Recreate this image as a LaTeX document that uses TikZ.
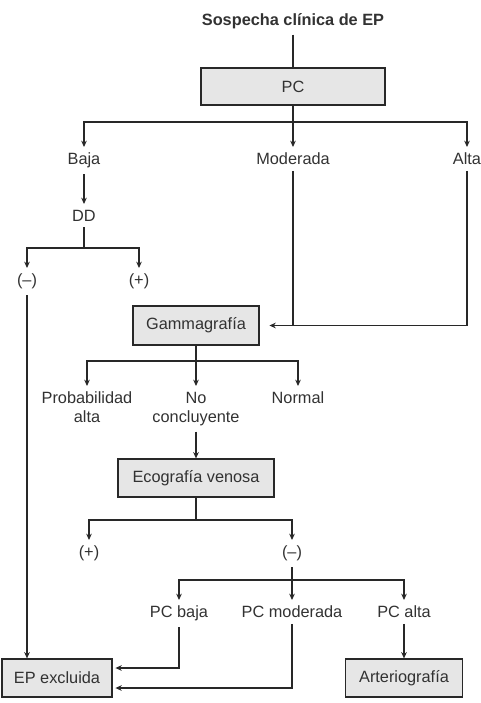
\documentclass[tikz,border=0pt]{standalone}
\usepackage{fontspec}
\setmainfont{Liberation Sans}
\usepackage{tikz}
\usetikzlibrary{arrows.meta, positioning, calc}
\definecolor{mydark}{RGB}{40,40,40}
\definecolor{mytext}{RGB}{50,50,50}
\definecolor{boxgray}{RGB}{230,230,230}
\tikzset{
  box/.style={rectangle, draw=mydark, fill=boxgray, text=mytext,
    align=center, inner sep=0pt, font=\fontsize{11.6}{13.6}\selectfont,
    line width=0.85pt},
  lbl/.style={text=mytext, align=center, inner xsep=1pt, inner ysep=4pt,
    font=\fontsize{11.6}{13.6}\selectfont},
  arrow/.style={-{Stealth[length=4.5pt,width=4pt]}, line width=0.85pt, color=mydark},
  line/.style={line width=0.85pt, color=mydark}
}
\begin{document}
\begin{tikzpicture}[x=0.025cm, y=-0.025cm]
  \useasboundingbox (0,0) rectangle (480,703);

  \node [lbl, font=\fontsize{11.6}{13.6}\selectfont\bfseries] (title) at (293,21) {Sospecha clínica de EP};
  \node [box, minimum width=4.6cm, minimum height=0.925cm] (pc) at (293,86.5) {PC};

  \coordinate (pcsplit) at (293,122);
  \node [lbl, anchor=north] (baja) at (84,147) {Baja};
  \node [lbl, anchor=north] (moderada) at (293,147) {Moderada};
  \node [lbl, anchor=north] (alta) at (467,147) {Alta};
  \node [lbl, anchor=north] (dd) at (84,204) {DD};

  \coordinate (ddsplit) at (84,248);
  \node [lbl, anchor=north] (ddneg) at (27,268) {(--)};
  \node [lbl, anchor=north] (ddpos) at (139,268) {(+)};

  \node [box, minimum width=3.15cm, minimum height=0.975cm] (gamma) at (196,325.5) {Gammagrafía};
  \coordinate (gamsplit) at (196,361);
  \node [lbl, anchor=north] (probalta) at (87,386) {Probabilidad\\alta};
  \node [lbl, anchor=north] (noconc) at (196,386) {No\\concluyente};
  \node [lbl, anchor=north] (normal) at (298,386) {Normal};

  \node [box, minimum width=3.9cm, minimum height=0.95cm] (eco) at (196,478) {Ecografía venosa};
  \coordinate (ecosplit) at (196,520);
  \node [lbl, anchor=north] (ecopos) at (89,540) {(+)};
  \node [lbl, anchor=north] (econeg) at (292,540) {(--)};

  \coordinate (negsplit) at (292,580);
  \node [lbl, anchor=north] (pcbaja) at (179,600) {PC baja};
  \node [lbl, anchor=north] (pcmod) at (292,600) {PC moderada};
  \node [lbl, anchor=north] (pcalta) at (404,600) {PC alta};

  \node [box, minimum width=2.75cm, minimum height=0.95cm] (epexcl) at (57,678) {EP excluida};
  \node [box, minimum width=2.925cm, minimum height=0.95cm] (arterio) at (404,678) {Arteriografía};

  \draw [line] (title.south) -- (title.south |- pc.north);
  \draw [line] (pc) -- (pcsplit);
  \draw [arrow] (pcsplit) -| (baja);
  \draw [arrow] (pcsplit) -- (moderada);
  \draw [arrow] (pcsplit) -| (alta);
  \draw [arrow] (baja) -- (dd);

  \draw [line] (dd) -- (ddsplit);
  \draw [arrow] (ddsplit) -| (ddneg);
  \draw [arrow] (ddsplit) -| (ddpos);
  \draw [arrow] (ddneg) -- (ddneg |- epexcl.north);

  \draw [line] (moderada) -- (moderada |- gamma);
  \draw [arrow, shorten >=7pt] (alta) |- (gamma);

  \draw [line] (gamma) -- (gamsplit);
  \draw [arrow] (gamsplit) -| (probalta);
  \draw [arrow] (gamsplit) -- (noconc);
  \draw [arrow] (gamsplit) -| (normal);
  \draw [arrow] (noconc) -- (eco);

  \draw [line] (eco) -- (ecosplit);
  \draw [arrow] (ecosplit) -| (ecopos);
  \draw [arrow] (ecosplit) -| (econeg);

  \draw [line] (econeg) -- (negsplit);
  \draw [arrow] (negsplit) -| (pcbaja);
  \draw [arrow] (negsplit) -- (pcmod);
  \draw [arrow] (negsplit) -| (pcalta);

  \draw [arrow, shorten >=2pt] (pcbaja) |- ([yshift=0.25cm]epexcl.east);
  \draw [arrow, shorten >=2pt] (pcmod) |- ([yshift=-0.25cm]epexcl.east);
  \draw [arrow] (pcalta) -- (arterio);
\end{tikzpicture}
\end{document}
